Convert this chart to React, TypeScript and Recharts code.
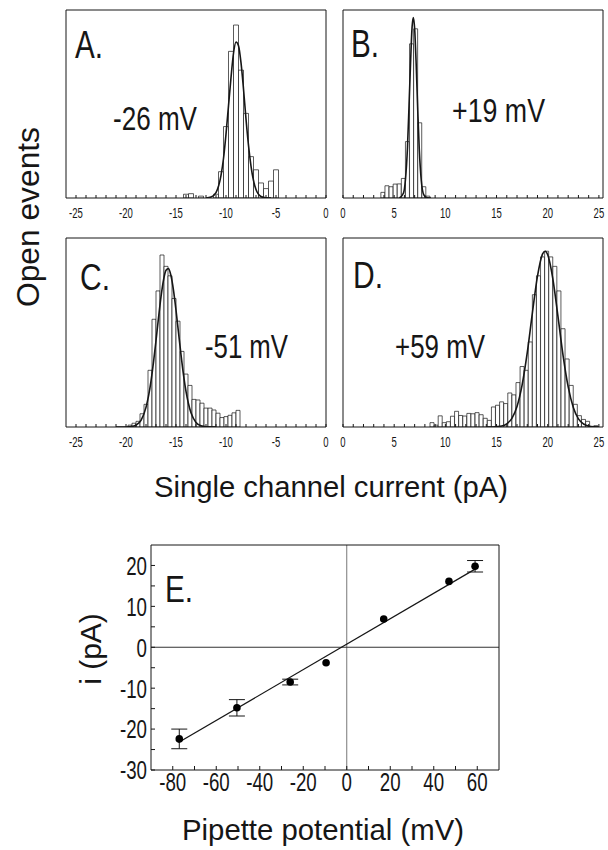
import { ComposedChart, Bar, Line, Scatter, ErrorBar, XAxis, YAxis, ReferenceLine } from 'recharts';

const FONT = "'Liberation Sans', Arial, Helvetica, sans-serif";
const INK = '#161616';

// tick positions (pA) for the histograms, labels only every 5
const negTicks = [-25, -24, -23, -22, -21, -20, -19, -18, -17, -16, -15, -14, -13, -12, -11, -10, -9, -8, -7, -6, -5, -4, -3, -2, -1, 0];
const posTicks = [0, 1, 2, 3, 4, 5, 6, 7, 8, 9, 10, 11, 12, 13, 14, 15, 16, 17, 18, 19, 20, 21, 22, 23, 24, 25];

// A: -26 mV
const aBinX = [-14, -13.5, -12.5, -11, -10.5, -10, -9.5, -9, -8.5, -8, -7.5, -7, -6.5, -6, -5.5, -5];
const aBinY = [2, 2.3, 1, 2, 14, 38, 78, 92, 68, 45, 22, 15, 8, 5, 9, 15];
const aFitX = [-12, -11.5, -11, -10.5, -10.25, -10, -9.75, -9.5, -9.25, -9, -8.75, -8.5, -8.25, -8, -7.75, -7.5, -7, -6.5, -6, -5.5];
const aFitY = [0, 0.5, 2.9, 12, 21, 34, 49, 64, 77, 83, 81, 72, 58, 42, 28, 17, 4.5, 0.8, 0.1, 0];
const aYTicks = [24.5, 49, 73.5, 98];

// B: +19 mV
const bBinX = [3.9, 4.3, 4.7, 5.1, 5.5, 5.9, 6.3, 6.7, 7.1, 7.5, 7.9, 8.3];
const bBinY = [3, 6.5, 6, 7.4, 7.5, 10.4, 30, 82, 90, 40, 6, 1];
const bFitX = [5.5, 5.9, 6.1, 6.3, 6.45, 6.6, 6.75, 6.87, 7.0, 7.15, 7.3, 7.45, 7.65, 7.9, 8.2, 8.6];
const bFitY = [0, 2.5, 9.7, 27, 49, 72, 91, 96, 90, 71, 47, 26, 9.2, 1.6, 0.1, 0];
const bYTicks = [15, 30, 45, 60, 75, 90];

// C: -51 mV
const cBinX = [-19.6, -19.2, -18.8, -18.4, -18, -17.6, -17.2, -16.8, -16.4, -16, -15.6, -15.2, -14.8, -14.4, -14, -13.6, -13.2, -12.8, -12.4, -12, -11.6, -11.2, -10.8, -10.4, -10, -9.6, -9.2, -8.8];
const cBinY = [1, 2, 3, 7, 12, 30, 57, 72, 91, 85, 80, 68, 56, 40, 28, 22, 14.6, 14.3, 12.6, 10, 10, 9, 7.3, 5, 5.5, 6.2, 7.5, 8.8];
const cFitX = [-21, -20, -19.5, -19, -18.5, -18, -17.75, -17.5, -17.25, -17, -16.75, -16.5, -16.25, -16, -15.75, -15.5, -15.25, -15, -14.75, -14.5, -14.25, -14, -13.75, -13.5, -13, -12.5, -12, -11];
const cFitY = [0, 0, 0.2, 1, 3.5, 10.4, 16.3, 24.3, 34.3, 45.7, 57.7, 68.8, 77.7, 82.9, 83.8, 80, 72.3, 61.8, 50, 38.3, 27.6, 18.9, 12.3, 7.5, 2.4, 0.6, 0.1, 0];
const cYTicks = [19, 38, 57, 76, 95];

// D: +59 mV
const dBinX = [8.7, 9.1, 9.5, 9.9, 10.3, 10.7, 11.1, 11.5, 11.9, 12.3, 12.7, 13.1, 13.5, 13.9, 14.3, 14.7, 15.1, 15.5, 15.9, 16.3, 16.7, 17.1, 17.5, 17.9, 18.3, 18.7, 19.1, 19.5, 19.9, 20.3, 20.7, 21.1, 21.5, 21.9, 22.3, 22.7, 23.1, 23.5, 23.9, 24.7];
const dBinY = [2.3, 1, 5.9, 2.3, 2.8, 5.7, 8.3, 6.1, 5.8, 7.2, 7, 7.6, 6.5, 4.6, 3.5, 10.6, 11.5, 13.3, 12.4, 18, 17, 23.5, 32, 30, 45, 70, 80, 90, 93, 90, 85, 72, 52, 36, 22, 12, 6, 4, 3, 0.7];
const dFitX = [14, 14.5, 15, 15.5, 16, 16.5, 17, 17.5, 18, 18.5, 19, 19.5, 19.75, 20, 20.5, 21, 21.5, 22, 22.5, 23, 23.5, 24, 24.5, 25];
const dFitY = [0, 0, 0.2, 0.5, 1.7, 4.6, 10.9, 22.3, 39.3, 60.3, 79.8, 91.6, 93, 91.1, 78.4, 58.5, 37.8, 21.2, 10.3, 4.3, 1.6, 0.5, 0.1, 0];
const dYTicks = [13.2, 26.4, 39.6, 52.8, 66, 79.2, 92.4];

// E: I-V relation
const ivX = [-77, -50.5, -26, -9.5, 17, 47, 59];
const ivY = [-22.4, -14.8, -8.5, -3.8, 6.9, 16.1, 19.8];
const ivErr = [2.4, 2.0, 0.7, 0, 0, 0, 1.4];
const ivFitX = [-77.4, 59];
const ivFitY = [-23.3, 19.1];
const ivXTicks = [-80, -70, -60, -50, -40, -30, -20, -10, 0, 10, 20, 30, 40, 50, 60];
const ivYTicks = [-30, -25, -20, -15, -10, -5, 0, 5, 10, 15, 20];

function HistTick({ x, y, payload }: any) {
  const v = payload.value;
  if (v % 5 !== 0) return null;
  return (
    <g transform={`translate(${x},${y})`}>
      <text transform="scale(0.68,1)" textAnchor="middle" dy="0.72em" fontSize={14} fontFamily={FONT} fill={INK}>
        {v}
      </text>
    </g>
  );
}

function IvTickX({ x, y, payload }: any) {
  const v = payload.value;
  if (v % 20 !== 0) return null;
  return (
    <g transform={`translate(${x},${y})`}>
      <text transform="scale(0.72,1)" textAnchor="middle" dy="0.72em" fontSize={26} fontFamily={FONT} fill={INK}>
        {v}
      </text>
    </g>
  );
}

function IvTickY({ x, y, payload }: any) {
  const v = payload.value;
  if (v % 10 !== 0) return null;
  return (
    <g transform={`translate(${x},${y})`}>
      <text transform="scale(0.72,1)" textAnchor="end" dy="0.36em" fontSize={26} fontFamily={FONT} fill={INK}>
        {v}
      </text>
    </g>
  );
}

type HistProps = {
  left: number;
  top: number;
  h: number;
  domain: [number, number];
  xTicks: number[];
  yTicks: number[];
  binX: number[];
  binY: number[];
  fitX: number[];
  fitY: number[];
};

// axes of size 1 so that recharts still draws them (size 0 is skipped)
function Hist(p: HistProps) {
  const bins = p.binX.map((x, i) => ({ x, y: p.binY[i] }));
  const fit = p.fitX.map((x, i) => ({ x, y: p.fitY[i] }));
  const w = 260;
  const m = 8;
  return (
    <div style={{ position: 'absolute', left: p.left - m, top: p.top - m }}>
      <ComposedChart
        width={w + 2 * m}
        height={p.h + m + 30}
        data={bins}
        margin={{ top: m - 1, right: m - 1, bottom: 0, left: m - 1 }}
        barCategoryGap={0}
        barGap={0}
      >
        <XAxis
          xAxisId="b"
          dataKey="x"
          type="number"
          domain={p.domain}
          allowDataOverflow
          ticks={p.xTicks}
          interval={0}
          height={30}
          tickSize={-3}
          tickMargin={13}
          tick={<HistTick />}
          stroke={INK}
        />
        <XAxis
          xAxisId="t"
          orientation="top"
          dataKey="x"
          type="number"
          domain={p.domain}
          allowDataOverflow
          ticks={p.xTicks.filter((v) => v % 5 === 0)}
          interval={0}
          height={1}
          tickSize={-4}
          tick={false}
          stroke={INK}
        />
        <YAxis yAxisId="l" type="number" domain={[0, 100]} allowDataOverflow ticks={p.yTicks} interval={0} width={1} tickSize={-4} tick={false} stroke={INK} />
        <YAxis yAxisId="r" orientation="right" type="number" domain={[0, 100]} allowDataOverflow ticks={p.yTicks} interval={0} width={1} tickSize={-4} tick={false} stroke={INK} />
        <Bar xAxisId="b" yAxisId="l" dataKey="y" fill="#fff" stroke={INK} strokeWidth={0.7} isAnimationActive={false} />
        <Line xAxisId="t" yAxisId="r" data={fit} dataKey="y" type="monotone" stroke={INK} strokeWidth={1.6} dot={false} isAnimationActive={false} />
      </ComposedChart>
    </div>
  );
}

function IvDot(props: any) {
  return <circle cx={props.cx} cy={props.cy} r={3.8} fill="#000" />;
}

function IvChart() {
  const pts = ivX.map((x, i) => ({ x, y: ivY[i], err: ivErr[i] }));
  const fit = ivFitX.map((x, i) => ({ x, y: ivFitY[i] }));
  const L = 151, T = 545, W = 348, H = 225;
  const ml = 40, m = 8;
  return (
    <div style={{ position: 'absolute', left: L - ml, top: T - m }}>
      <ComposedChart width={W + ml + m} height={H + m + 40} margin={{ top: m - 1, right: m - 1, bottom: 0, left: ml - 1 }}>
        <XAxis xAxisId="b" dataKey="x" type="number" domain={[-90, 70]} allowDataOverflow ticks={ivXTicks} interval={0} height={40} tickSize={-4} tickMargin={6} tick={<IvTickX />} stroke={INK} />
        <XAxis xAxisId="t" orientation="top" dataKey="x" type="number" domain={[-90, 70]} allowDataOverflow ticks={ivXTicks} interval={0} height={1} tickSize={-4} tick={false} stroke={INK} />
        <YAxis yAxisId="l" dataKey="y" type="number" domain={[-30, 25]} allowDataOverflow ticks={ivYTicks} interval={0} width={1} tickSize={-4} tickMargin={8} tick={<IvTickY />} stroke={INK} />
        <YAxis yAxisId="r" orientation="right" dataKey="y" type="number" domain={[-30, 25]} allowDataOverflow ticks={ivYTicks} interval={0} width={1} tickSize={-4} tick={false} stroke={INK} />
        <ReferenceLine xAxisId="b" yAxisId="l" x={0} stroke="#777" strokeWidth={1} />
        <ReferenceLine xAxisId="b" yAxisId="l" y={0} stroke="#333" strokeWidth={1.2} />
        <Line xAxisId="t" yAxisId="r" data={fit} dataKey="y" type="linear" stroke={INK} strokeWidth={1.2} dot={false} isAnimationActive={false} />
        <Scatter xAxisId="b" yAxisId="l" data={pts} dataKey="y" shape={<IvDot />} isAnimationActive={false}>
          <ErrorBar dataKey="err" direction="y" width={8} stroke={INK} strokeWidth={1} isAnimationActive={false} />
        </Scatter>
      </ComposedChart>
    </div>
  );
}

const txt = { fontFamily: FONT, fill: INK } as const;

export default function App() {
  return (
    <div style={{ position: 'absolute', left: 0, top: 0, width: 608, height: 850, background: '#fff', overflow: 'hidden' }}>
      <Hist left={66} top={10} h={188} domain={[-26, 0]} xTicks={negTicks} yTicks={aYTicks} binX={aBinX} binY={aBinY} fitX={aFitX} fitY={aFitY} />
      <Hist left={343} top={10} h={188} domain={[0, 25.4]} xTicks={posTicks} yTicks={bYTicks} binX={bBinX} binY={bBinY} fitX={bFitX} fitY={bFitY} />
      <Hist left={66} top={238} h={189} domain={[-26, 0]} xTicks={negTicks} yTicks={cYTicks} binX={cBinX} binY={cBinY} fitX={cFitX} fitY={cFitY} />
      <Hist left={343} top={238} h={189} domain={[0, 25.4]} xTicks={posTicks} yTicks={dYTicks} binX={dBinX} binY={dBinY} fitX={dFitX} fitY={dFitY} />
      <IvChart />
      <svg width={608} height={850} style={{ position: 'absolute', left: 0, top: 0, pointerEvents: 'none' }}>
        <text x={75} y={58} fontSize={38} textLength={28} lengthAdjust="spacingAndGlyphs" {...txt}>A.</text>
        <text x={113} y={130} fontSize={34} textLength={84} lengthAdjust="spacingAndGlyphs" {...txt}>-26 mV</text>
        <text x={351} y={57} fontSize={38} textLength={28} lengthAdjust="spacingAndGlyphs" {...txt}>B.</text>
        <text x={452} y={122} fontSize={34} textLength={93} lengthAdjust="spacingAndGlyphs" {...txt}>+19 mV</text>
        <text x={80} y={290} fontSize={36} textLength={30} lengthAdjust="spacingAndGlyphs" {...txt}>C.</text>
        <text x={205} y={358} fontSize={34} textLength={83} lengthAdjust="spacingAndGlyphs" {...txt}>-51 mV</text>
        <text x={353} y={288} fontSize={36} textLength={30} lengthAdjust="spacingAndGlyphs" {...txt}>D.</text>
        <text x={395} y={358} fontSize={34} textLength={90} lengthAdjust="spacingAndGlyphs" {...txt}>+59 mV</text>
        <text x={165} y={602} fontSize={36} textLength={28} lengthAdjust="spacingAndGlyphs" {...txt}>E.</text>
        <text x={154} y={497} fontSize={30} textLength={354} lengthAdjust="spacingAndGlyphs" {...txt}>Single channel current (pA)</text>
        <text x={182} y={840} fontSize={29} textLength={282} lengthAdjust="spacingAndGlyphs" {...txt}>Pipette potential (mV)</text>
        <text transform="translate(39,217) rotate(-90)" textAnchor="middle" fontSize={31} textLength={180} lengthAdjust="spacingAndGlyphs" {...txt}>Open events</text>
        <text transform="translate(101,649) rotate(-90)" textAnchor="middle" fontSize={30} {...txt}>i (pA)</text>
      </svg>
    </div>
  );
}
